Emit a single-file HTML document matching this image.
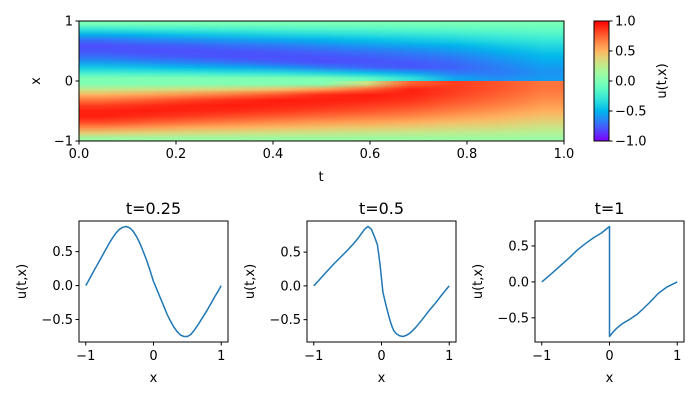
<!DOCTYPE html>
<html><head><meta charset="utf-8">
<style>
html,body{margin:0;padding:0;background:#fff;}
#wrap{position:relative;width:700px;height:400px;overflow:hidden;font-family:"DejaVu Sans","Liberation Sans",sans-serif;}
#hmTop{position:absolute;left:79px;top:21px;width:485px;height:60px;image-rendering:auto;}
#hmBot{position:absolute;left:79px;top:81px;width:485px;height:60px;image-rendering:auto;}
#cb{position:absolute;left:594px;top:21px;width:15px;height:120px;}
svg{position:absolute;left:0;top:0;}
text{font-family:"DejaVu Sans","Liberation Sans",sans-serif;fill:#000;}
</style></head>
<body>
<div id="wrap">
<canvas id="hmTop" width="11" height="11"></canvas>
<canvas id="hmBot" width="11" height="11"></canvas>
<canvas id="cb" width="1" height="120"></canvas>
<svg id="fig" width="700" height="400" xmlns="http://www.w3.org/2000/svg"></svg>
</div>
<script>
// ---- heatmap data: u(t,x); each column is one t
const tValues = [0,0.1,0.2,0.3,0.4,0.5,0.6,0.7,0.8,0.9,1.0];
const xUpper = [1,0.9,0.8,0.7,0.6,0.5,0.4,0.3,0.2,0.1,0];      // approaching 0 from above
const xLower = [0,-0.1,-0.2,-0.3,-0.4,-0.5,-0.6,-0.7,-0.8,-0.9,-1]; // approaching 0 from below
const uUpper = [
 [-.03,-.29,-.53,-.71,-.80,-.78,-.71,-.59,-.42,-.22,0],
 [-.03,-.26,-.49,-.66,-.77,-.80,-.75,-.63,-.45,-.24,0],
 [-.03,-.24,-.45,-.63,-.75,-.80,-.77,-.67,-.49,-.26,0],
 [-.03,-.22,-.42,-.59,-.71,-.78,-.80,-.71,-.53,-.29,0],
 [-.03,-.20,-.39,-.55,-.68,-.76,-.80,-.76,-.59,-.32,0],
 [-.03,-.18,-.36,-.51,-.64,-.73,-.79,-.80,-.67,-.38,0],
 [-.03,-.17,-.33,-.47,-.59,-.69,-.76,-.79,-.74,-.45,-.1],
 [-.03,-.15,-.30,-.43,-.55,-.65,-.72,-.77,-.78,-.55,-.3],
 [-.03,-.14,-.27,-.39,-.50,-.59,-.67,-.72,-.75,-.68,-.55],
 [-.03,-.12,-.23,-.33,-.43,-.51,-.58,-.63,-.67,-.68,-.62],
 [-.03,-.10,-.19,-.28,-.36,-.43,-.49,-.54,-.58,-.61,-.58]
];
const uLower = [
 [0,.26,.50,.70,.85,.92,.92,.82,.64,.40,.12],
 [0,.29,.56,.76,.89,.93,.88,.77,.59,.37,.12],
 [0,.33,.62,.83,.92,.91,.84,.72,.54,.34,.12],
 [0,.38,.70,.89,.93,.89,.80,.67,.51,.32,.12],
 [0,.45,.79,.93,.91,.86,.76,.63,.48,.30,.12],
 [0,.57,.90,.92,.89,.82,.72,.59,.45,.29,.12],
 [.3,.74,.93,.91,.85,.78,.68,.56,.42,.27,.12],
 [.75,.92,.91,.87,.81,.73,.64,.52,.40,.26,.12],
 [.85,.85,.83,.79,.73,.66,.57,.47,.36,.24,.12],
 [.78,.78,.75,.71,.66,.59,.51,.43,.34,.23,.12],
 [.70,.69,.66,.62,.57,.51,.45,.37,.29,.20,.12]
];
const hmXTicks = [0,0.2,0.4,0.6,0.8,1.0];
const hmXTickLabels = ["0.0","0.2","0.4","0.6","0.8","1.0"];
const hmYTicks = [1,0,-1];
const hmYTickLabels = ["1","0","\u22121"];
const cbTicks = [1,0.5,0,-0.5,-1];
const cbTickLabels = ["1.0","0.5","0.0","\u22120.5","\u22121.0"];

// ---- line slices
const sliceTitles = ["t=0.25","t=0.5","t=1"];
const x025 = [-1,-.95,-.9,-.85,-.8,-.75,-.7,-.65,-.6,-.55,-.5,-.45,-.4,-.35,-.3,-.25,-.2,-.15,-.1,-.05,0,.05,.1,.15,.2,.25,.3,.35,.4,.45,.5,.55,.6,.65,.7,.75,.8,.85,.9,.95,1];
const u025 = [0,.09,.18,.27,.36,.45,.54,.63,.71,.78,.83,.86,.87,.85,.80,.72,.62,.50,.37,.22,.06,-.06,-.18,-.30,-.42,-.52,-.61,-.68,-.73,-.75,-.75,-.72,-.66,-.59,-.51,-.43,-.35,-.26,-.17,-.09,0];
const x05 = [-1,-.9,-.8,-.7,-.6,-.5,-.4,-.35,-.3,-.25,-.2,-.15,-.1,-.06,-.02,.02,.05,.08,.12,.15,.18,.22,.27,.32,.37,.42,.5,.6,.7,.8,.9,1];
const u05 = [0,.11,.22,.33,.43,.53,.64,.70,.77,.84,.88,.84,.72,.61,.31,-.09,-.22,-.34,-.49,-.59,-.66,-.71,-.74,-.75,-.73,-.70,-.62,-.50,-.37,-.25,-.12,0];
const x1 = [-1,-.85,-.72,-.6,-.48,-.36,-.24,-.12,0,0,.05,.1,.19,.3,.41,.5,.6,.72,.85,1];
const u1 = [0,.12,.23,.33,.44,.53,.61,.68,.77,-.76,-.70,-.65,-.58,-.52,-.45,-.37,-.28,-.16,-.07,0];
const sliceYTicks = [0.5,0,-0.5];
const sliceYTickLabels = ["0.5","0.0","\u22120.5"];
const sliceXTicks = [-1,0,1];
const sliceXTickLabels = ["\u22121","0","1"];

function rainbow(v){
  let s=(v+1)/2; s=Math.max(0,Math.min(1,s));
  const r=Math.min(1,Math.abs(2*s-0.5)), g=Math.sin(Math.PI*s), b=Math.cos(Math.PI*s/2);
  return [Math.round(r*255),Math.round(g*255),Math.round(Math.max(0,b)*255)];
}
function paint(id,cols,rows){
  const c=document.getElementById(id), ctx=c.getContext('2d');
  const img=ctx.createImageData(tValues.length,rows.length);
  for(let j=0;j<tValues.length;j++)for(let i=0;i<rows.length;i++){
    const col=rainbow(cols[j][i]); const k=(i*tValues.length+j)*4;
    img.data[k]=col[0];img.data[k+1]=col[1];img.data[k+2]=col[2];img.data[k+3]=255;
  }
  ctx.putImageData(img,0,0);
}
paint('hmTop',uUpper,xUpper);
paint('hmBot',uLower,xLower);
(function(){
  const cb=document.getElementById('cb'), cx=cb.getContext('2d');
  for(let y=0;y<120;y++){const col=rainbow(1-2*(y+0.5)/120);cx.fillStyle=`rgb(${col})`;cx.fillRect(0,y,1,1);}
})();

const NS='http://www.w3.org/2000/svg', svg=document.getElementById('fig');
function el(tag,attrs,parent){const e=document.createElementNS(NS,tag);for(const k in attrs)e.setAttribute(k,attrs[k]);(parent||svg).appendChild(e);return e;}
function txt(s,x,y,anchor,size,parent,rot){const e=el('text',{x:x,y:y,'text-anchor':anchor,'font-size':size},parent);if(rot)e.setAttribute('transform',`rotate(-90 ${x} ${y})`);e.textContent=s;return e;}

const hmL=79,hmR=564,hmT=21,hmB=141;
const hmX=t=>hmL+(t-0)/(1-0)*(hmR-hmL);
const hmY=x=>hmT+(1-x)/2*(hmB-hmT);
let g=el('g',{});


el('rect',{x:hmL,y:hmT,width:hmR-hmL,height:hmB-hmT,fill:'none',stroke:'#000','stroke-width':1},g);
hmXTicks.forEach((t,i)=>{const x=hmX(t);el('line',{x1:x,x2:x,y1:hmB,y2:hmB+3.5,stroke:'#000'},g);
  const e=txt(hmXTickLabels[i],x,hmB+17,'middle',13,g);});
hmYTicks.forEach((v,i)=>{const y=hmY(v);el('line',{x1:hmL-3.5,x2:hmL,y1:y,y2:y,stroke:'#000'},g);
  const e=txt(hmYTickLabels[i],hmL-6,y+4.5,'end',13,g);});
let e=txt('t',321,181,'middle',13,g);
e=txt('x',40,81,'middle',13,g,true);
const cbg=el('g',{});


el('rect',{x:594,y:21,width:15,height:120,fill:'none',stroke:'#000'},cbg);
cbTicks.forEach((v,i)=>{const y=21+(1-v)/2*120;el('line',{x1:609,x2:612.5,y1:y,y2:y,stroke:'#000'},cbg);
  const t=txt(cbTickLabels[i],615,y+4.5,'start',13,cbg);});
e=txt('u(t,x)',666,81,'middle',13,cbg,true);

const slices=[{left:79,xs:x025,us:u025,ymin:-.831,ymax:.951},{left:307,xs:x05,us:u05,ymin:-.831,ymax:.961},{left:535,xs:x1,us:u1,ymin:-.836,ymax:.847}];
slices.forEach((s,k)=>{
  const L=s.left,R=L+149,T=221,B=342;
  const sx=v=>L+(v+1.1)/2.2*(R-L);
  const sy=v=>T+(s.ymax-v)/(s.ymax-s.ymin)*(B-T);
  const sg=el('g',{});
  
  
  const pts=s.xs.map((x,i)=>sx(x).toFixed(1)+','+sy(s.us[i]).toFixed(1)).join(' ');
  const pl=el('polyline',{points:pts,fill:'none',stroke:'#1f77b4','stroke-width':1.5,'stroke-linejoin':'round'},sg);
  
  
  el('rect',{x:L,y:T,width:R-L,height:B-T,fill:'none',stroke:'#000'},sg);
  sliceXTicks.forEach((v,i)=>{const x=sx(v);el('line',{x1:x,x2:x,y1:B,y2:B+3.5,stroke:'#000'},sg);
    const t=txt(sliceXTickLabels[i],x,B+18,'middle',13,sg);});
  sliceYTicks.forEach((v,i)=>{const y=sy(v);el('line',{x1:L-3.5,x2:L,y1:y,y2:y,stroke:'#000'},sg);
    const t=txt(sliceYTickLabels[i],L-6,y+4.5,'end',13,sg);});
  let t=txt(sliceTitles[k],(L+R)/2,214,'middle',16,sg);
  t=txt('x',(L+R)/2,382,'middle',13,sg);
  t=txt('u(t,x)',L-53,(T+B)/2,'middle',13,sg,true);
});
</script>
</body></html>
